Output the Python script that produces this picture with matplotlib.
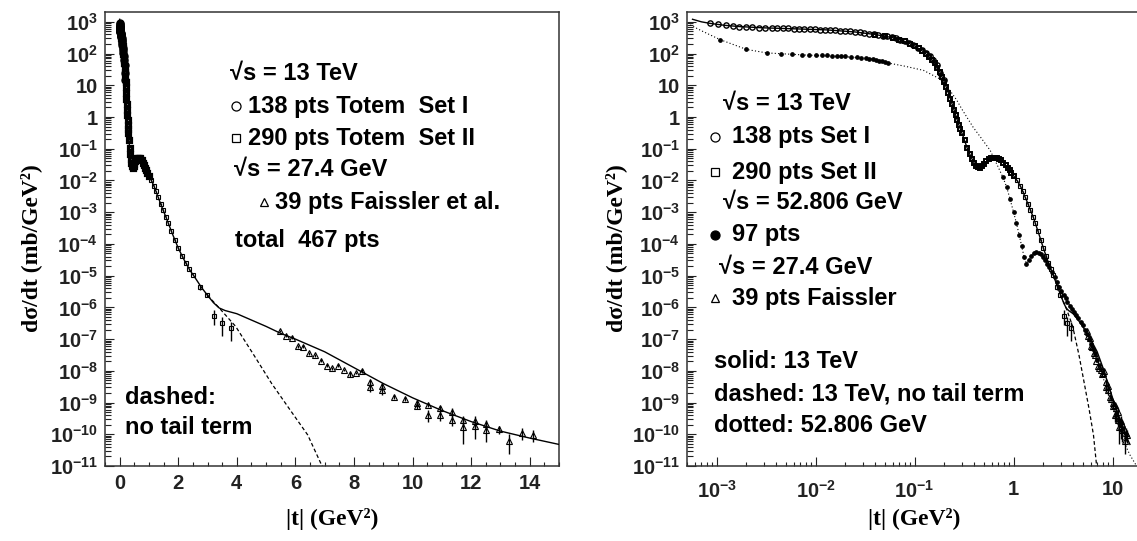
import numpy as np
import matplotlib
matplotlib.use("Agg")
import matplotlib.pyplot as plt
from matplotlib.lines import Line2D
from matplotlib.ticker import MultipleLocator, LogLocator, FuncFormatter, NullFormatter

plt.rcParams['font.family'] = ['Liberation Sans', 'DejaVu Sans']
plt.rcParams['font.weight'] = 'bold'
plt.rcParams['mathtext.fontset'] = 'custom'
plt.rcParams['mathtext.rm'] = 'Liberation Sans:bold'
plt.rcParams['mathtext.it'] = 'Liberation Sans:bold'
plt.rcParams['mathtext.bf'] = 'Liberation Sans:bold'
plt.rcParams['axes.unicode_minus'] = False

# ---------------- data (t in GeV^2, values as log10 of dsigma/dt in mb/GeV^2) -------------
# model 13 TeV (solid)
model13_t = [5.7e-4, 7e-4, 8.6e-4, 1.2e-3, 1.7e-3, 3e-3, 6e-3, 0.013, 0.025, 0.04,
             0.06, 0.08, 0.10, 0.12, 0.14, 0.16, 0.18, 0.20, 0.22, 0.25,
             0.28, 0.31, 0.34, 0.37, 0.40, 0.43, 0.46, 0.48, 0.52, 0.57,
             0.62, 0.67, 0.72, 0.8, 0.9, 1.0, 1.1, 1.2, 1.4, 1.6,
             1.8, 2.0, 2.2, 2.4, 2.6, 2.8, 3.0, 3.2, 3.4, 3.6,
             4.0, 4.5, 5.0, 5.5, 6.0, 7.0, 8.0, 9.0, 10.0, 11.0,
             12.0, 13.0, 14.0, 15.0]
model13_logy = [3.08, 3.0, 2.95, 2.89, 2.85, 2.81, 2.78, 2.745, 2.68, 2.60,
                2.50, 2.38, 2.24, 2.08, 1.9, 1.7, 1.42, 1.1, 0.75, 0.23,
                -0.25, -0.62, -0.98, -1.25, -1.45, -1.56, -1.6, -1.56, -1.44, -1.33,
                -1.28, -1.28, -1.32, -1.46, -1.66, -1.85, -2.03, -2.24, -2.74, -3.2,
                -3.68, -4.13, -4.5, -4.83, -5.1, -5.38, -5.62, -5.85, -6.02, -6.1,
                -6.2, -6.4, -6.6, -6.82, -7.0, -7.4, -7.9, -8.4, -8.85, -9.25,
                -9.6, -9.9, -10.12, -10.32]

# model 13 TeV without tail term (dashed)
notail_t = [3.0, 3.4, 3.96, 4.58, 5.19, 5.81, 6.42, 6.91, 7.05]
notail_logy = [-5.62, -6.02, -6.6, -7.5, -8.4, -9.22, -10.02, -11.0, -11.2]

# model 52.806 GeV (dotted)
model53_t = [5.4e-4, 7e-4, 1.08e-3, 2.0e-3, 3.2e-3, 8.2e-3, 0.02, 0.038, 0.0546, 0.08,
             0.123, 0.18, 0.2, 0.267, 0.3, 0.39, 0.46, 0.58, 0.7, 0.78,
             0.85, 0.92, 1.0, 1.07, 1.14, 1.21, 1.28, 1.35, 1.42, 1.5,
             1.6, 1.7, 1.8, 1.9, 2.0, 2.2, 2.45, 2.75, 3.05, 3.5,
             3.9, 4.5, 5.0, 5.5, 6.0, 7.0, 8.0, 9.0, 10.0, 11.0,
             12.0, 13.0, 14.0, 15.0, 17.5, 19.0]
model53_logy = [2.9, 2.72, 2.44, 2.13, 2.02, 1.95, 1.9, 1.83, 1.70, 1.6,
                1.47, 1.2, 1.08, 0.53, 0.25, -0.32, -0.62, -1.05, -1.58, -1.9,
                -2.2, -2.58, -3.0, -3.35, -3.72, -4.08, -4.42, -4.62, -4.5, -4.38,
                -4.3, -4.27, -4.28, -4.33, -4.42, -4.62, -4.9, -5.2, -5.48, -5.82,
                -6.05, -6.35, -6.55, -6.85, -7.15, -7.65, -8.2, -8.7, -9.15, -9.55,
                -9.9, -10.2, -10.45, -10.65, -11.0, -11.2]

# TOTEM 13 TeV Set I (open circles)
set1_t = [0.00086, 0.00103, 0.00123, 0.00146, 0.0017, 0.0020, 0.0023, 0.0027, 0.0031, 0.0036,
          0.0041, 0.0047, 0.0053, 0.0060, 0.0068, 0.0077, 0.0087, 0.0098, 0.011, 0.0124,
          0.014, 0.0158, 0.0178, 0.020, 0.0225, 0.025, 0.028, 0.031, 0.035, 0.039,
          0.043, 0.048, 0.053, 0.059, 0.065, 0.072, 0.080, 0.088, 0.097, 0.107,
          0.118, 0.130, 0.142, 0.155, 0.168, 0.182, 0.196]
set1_logy = [2.95, 2.92, 2.89, 2.87, 2.85, 2.84, 2.83, 2.82, 2.81, 2.80,
             2.80, 2.79, 2.79, 2.78, 2.78, 2.77, 2.77, 2.76, 2.75, 2.75,
             2.74, 2.73, 2.72, 2.71, 2.70, 2.68, 2.67, 2.65, 2.63, 2.61,
             2.59, 2.56, 2.54, 2.51, 2.48, 2.43, 2.38, 2.33, 2.26, 2.19,
             2.11, 2.02, 1.92, 1.79, 1.64, 1.40, 1.16]

# TOTEM 13 TeV Set II (open squares)
set2_t = [0.04, 0.05, 0.06, 0.07, 0.08, 0.09, 0.10, 0.11, 0.12, 0.13,
          0.14, 0.15, 0.16, 0.17, 0.18, 0.19, 0.20, 0.21, 0.22, 0.23,
          0.24, 0.25, 0.26, 0.27, 0.28, 0.29, 0.30, 0.32, 0.34, 0.36,
          0.38, 0.40, 0.42, 0.44, 0.46, 0.48, 0.50, 0.53, 0.56, 0.59,
          0.62, 0.65, 0.68, 0.71, 0.75, 0.79, 0.83, 0.87, 0.91, 0.95,
          1.0, 1.08, 1.16, 1.24, 1.32, 1.40, 1.48, 1.57, 1.66, 1.76,
          1.88, 2.0, 2.12, 2.25, 2.38, 2.51, 2.73, 2.98, 3.22, 3.49,
          3.8]
set2_logy = [2.60, 2.55, 2.50, 2.44, 2.38, 2.31, 2.24, 2.16, 2.08, 1.99,
             1.90, 1.80, 1.69, 1.56, 1.42, 1.27, 1.10, 0.93, 0.75, 0.58,
             0.40, 0.23, 0.07, -0.09, -0.25, -0.38, -0.50, -0.74, -0.98, -1.17,
             -1.33, -1.45, -1.53, -1.58, -1.60, -1.56, -1.48, -1.38, -1.32, -1.29,
             -1.28, -1.28, -1.30, -1.33, -1.37, -1.44, -1.52, -1.60, -1.68, -1.76,
             -1.87, -2.0, -2.16, -2.34, -2.53, -2.74, -2.93, -3.14, -3.35, -3.58,
             -3.88, -4.13, -4.38, -4.6, -4.8, -4.97, -5.37, -5.61, -6.26, -6.5,
             -6.66]
set2_err = [0.05] * 66 + [0.15, 0.15, 0.5, 0.6, 0.6]

# ISR 52.806 GeV (filled dots)
isr_t = [0.00108, 0.0020, 0.0032, 0.0045, 0.0058, 0.0072, 0.0086, 0.010, 0.0115, 0.013,
         0.0146, 0.0163, 0.018, 0.020, 0.023, 0.026, 0.029, 0.032, 0.035, 0.038,
         0.041, 0.044, 0.047, 0.050, 0.0535,
         0.78, 0.85, 0.92, 1.0, 1.07, 1.14, 1.21, 1.28, 1.35, 1.42,
         1.5, 1.6, 1.7, 1.8, 1.9, 2.0, 2.1, 2.2, 2.3, 2.45,
         2.6, 2.75, 2.9, 3.05, 3.2, 3.35, 3.5, 3.7, 3.9, 4.1,
         4.3, 4.5, 4.75, 5.0, 5.25, 5.5, 5.75, 6.0, 6.3, 6.6, 7.0]
isr_logy = [2.44, 2.13, 2.02, 1.99, 1.97, 1.96, 1.95, 1.95, 1.94, 1.94,
            1.93, 1.93, 1.92, 1.91, 1.89, 1.88, 1.86, 1.85, 1.84, 1.83,
            1.80, 1.78, 1.76, 1.74, 1.71,
            -1.9, -2.2, -2.58, -3.0, -3.35, -3.72, -4.08, -4.42, -4.62, -4.5,
            -4.38, -4.3, -4.27, -4.28, -4.33, -4.42, -4.52, -4.62, -4.73, -4.9,
            -5.05, -5.2, -5.35, -5.48, -5.6, -5.72, -5.82, -5.95, -6.05, -6.15,
            -6.25, -6.35, -6.45, -6.55, -6.7, -6.85, -7.0, -7.15, -7.3, -7.45, -7.65]

# Faissler et al. 27.4 GeV (open triangles), relative errors
tri_t = [5.46, 5.68, 5.88, 6.08, 6.27, 6.46, 6.67, 6.86, 7.08, 7.26,
         7.47, 7.66, 7.87, 8.08, 8.27, 8.55, 8.55, 8.94, 8.94, 9.35,
         9.74, 10.15, 10.15, 10.54, 10.54, 10.93, 10.93, 11.34, 11.34, 11.73,
         11.73, 12.12, 12.12, 12.52, 12.52, 12.94, 13.31, 13.72, 14.11]
tri_logy = [-6.74, -6.89, -6.95, -7.23, -7.24, -7.44, -7.51, -7.68, -7.84, -7.92,
            -7.84, -7.97, -8.11, -8.07, -8.00, -8.36, -8.52, -8.47, -8.62, -8.81,
            -8.89, -9.0, -9.1, -9.07, -9.39, -9.18, -9.40, -9.3, -9.55, -9.55,
            -9.78, -9.58, -9.75, -9.68, -9.85, -9.84, -10.21, -9.95, -10.02]
tri_err = [0.1, 0.1, 0.1, 0.1, 0.1, 0.1, 0.1, 0.1, 0.1, 0.1,
           0.1, 0.1, 0.15, 0.1, 0.15, 0.2, 0.3, 0.2, 0.3, 0.15,
           0.15, 0.2, 0.2, 0.15, 0.4, 0.2, 0.35, 0.3, 0.35, 0.35,
           0.7, 0.4, 0.6, 0.35, 0.6, 0.3, 0.6, 0.4, 0.4]

# tick labels
left_xticks = [0, 2, 4, 6, 8, 10, 12, 14]
right_xticks = [1e-3, 1e-2, 1e-1, 1, 10]

# ---------------- figure ----------------
W, H = 1137, 541
fig = plt.figure(figsize=(W / 100, H / 100), dpi=100)
axL = fig.add_axes([105 / W, 1 - 466 / H, 454 / W, 453.7 / H])
axR = fig.add_axes([686.9 / W, 1 - 466 / H, 455.4 / W, 453.7 / H])


def yv(lst):
    return 10.0 ** np.asarray(lst, dtype=float)


def yfmt(v, pos):
    if v <= 0:
        return ''
    e = int(round(np.log10(v)))
    if abs(np.log10(v) - e) > 1e-6:
        return ''
    if e == 0:
        return '1'
    if e == 1:
        return '10'
    return r'$\mathregular{10^{%d}}$' % e


for ax in (axL, axR):
    ax.set_yscale('log')
    ax.set_ylim(1e-11, 10 ** 3.30)
    ax.yaxis.set_major_locator(LogLocator(base=10, numticks=30))
    ax.yaxis.set_minor_locator(LogLocator(base=10, subs=np.arange(2, 10), numticks=30))
    ax.yaxis.set_major_formatter(FuncFormatter(yfmt))
    ax.yaxis.set_minor_formatter(NullFormatter())
    ax.tick_params(which='both', direction='in', top=False, right=False, width=0.8, colors='#222222')
    ax.tick_params(which='major', length=6.5, labelsize=14.5, pad=5)
    ax.tick_params(which='minor', length=3.2)
    ax.tick_params(axis='y', which='minor', length=4)
    for sp in ax.spines.values():
        sp.set_linewidth(1.1)
        sp.set_color('#333333')

# Left panel
axL.set_xlim(-0.5, 15)
axL.set_xticks(left_xticks)
axL.set_xticklabels([str(v) for v in left_xticks])
axL.xaxis.set_minor_locator(MultipleLocator(0.5))
axL.tick_params(axis='x', which='major', pad=6)

# Right panel
axR.set_xscale('log')
axR.set_xlim(5e-4, 20)
axR.set_xticks(right_xticks)
axR.xaxis.set_minor_locator(LogLocator(base=10, subs=np.arange(2, 10), numticks=30))
axR.xaxis.set_major_formatter(FuncFormatter(yfmt))
axR.xaxis.set_minor_formatter(NullFormatter())
axR.tick_params(axis='x', which='major', pad=10)

ndense = 51  # Set II points with t <= 1 form the dense band
styles = {axL: dict(ms1=3.7, mew1=2.3, ms2=3.5, mew2=2.3),
          axR: dict(ms1=3.8, mew1=1.0, ms2=3.4, mew2=1.4)}
for ax in (axL, axR):
    st = styles[ax]
    ax.plot(model13_t, yv(model13_logy), color='k', lw=1.0, zorder=3)
    ax.plot(notail_t, yv(notail_logy), color='k', lw=0.9, ls=(0, (3, 2)), zorder=3)
    ax.plot(set1_t, yv(set1_logy), ls='none', marker='o', ms=st['ms1'], mfc='none', mec='k',
            mew=st['mew1'], zorder=4)
    s2 = yv(set2_logy)
    ax.plot(set2_t[:ndense], s2[:ndense], ls='none', marker='s', ms=st['ms2'], mfc='none', mec='k',
            mew=st['mew2'], zorder=4)
    ax.errorbar(set2_t[ndense:], s2[ndense:], yerr=s2[ndense:] * np.asarray(set2_err[ndense:]),
                fmt='s', ms=3.4, mfc='none', mec='k', mew=0.8, ecolor='k', elinewidth=1.0,
                capsize=0, zorder=4)
    tr = yv(tri_logy)
    ax.errorbar(tri_t, tr, yerr=tr * np.asarray(tri_err), fmt='^', ms=4.0, mfc='none', mec='k',
                mew=0.8, ecolor='k', elinewidth=1.0, capsize=0, zorder=4)

axR.plot(model53_t, yv(model53_logy), color='k', lw=0.8, ls=(0, (1, 2)), zorder=3)
axR.plot(isr_t, yv(isr_logy), ls='none', marker='o', ms=2.4, mfc='k', mec='k', zorder=4)

# axis labels
serif = ['Liberation Serif', 'DejaVu Serif']
for ax, xl in ((axL, -0.139), (axR, -0.1315)):
    ax.set_ylabel('dσ/dt (mb/GeV²)', family=serif, fontsize=17, fontweight='bold')
    ax.yaxis.set_label_coords(xl, 0.48)
    ax.set_xlabel('|t| (GeV²)', family=serif, fontsize=17, fontweight='bold')
    ax.xaxis.set_label_coords(0.5, -0.093)


# text annotations (figure pixel coordinates)
def ftext(px, py, s, size=17):
    fig.text(px / W, 1 - py / H, s, fontsize=size, fontweight='bold', ha='left', va='center',
             family=['Liberation Sans', 'DejaVu Sans'])


def fmark(px, py, marker, filled=False, ms=7):
    fig.add_artist(Line2D([px / W], [1 - py / H], transform=fig.transFigure, ls='none',
                          marker=marker, ms=ms, mfc='k' if filled else 'none', mec='k', mew=0.9))


# left legend
ftext(230, 74, '√s = 13 TeV')
fmark(236, 106, 'o', ms=6.5)
ftext(248, 106, '138 pts Totem  Set I')
fmark(236, 138, 's', ms=5.5)
ftext(248, 138, '290 pts Totem  Set II')
ftext(234, 169, '√s = 27.4 GeV')
fmark(264, 202, '^', ms=5.5)
ftext(275, 202, '39 pts Faissler et al.')
ftext(235, 241, 'total  467 pts')
ftext(125, 397, 'dashed:')
ftext(125, 428, 'no tail term')

# right legend
ftext(723, 104, '√s = 13 TeV')
fmark(715, 137, 'o', ms=6.5)
ftext(732, 137, '138 pts Set I')
fmark(715, 172, 's', ms=5.5)
ftext(732, 172, '290 pts Set II')
ftext(723, 202, '√s = 52.806 GeV')
fmark(715, 235, 'o', filled=True, ms=6.5)
ftext(732, 235, '97 pts')
ftext(719, 268, '√s = 27.4 GeV')
fmark(715, 298, '^', ms=5.5)
ftext(732, 298, '39 pts Faissler')
ftext(714, 362, 'solid: 13 TeV')
ftext(714, 394, 'dashed: 13 TeV, no tail term')
ftext(714, 426, 'dotted: 52.806 GeV')

fig.savefig('out.png', dpi=100)
